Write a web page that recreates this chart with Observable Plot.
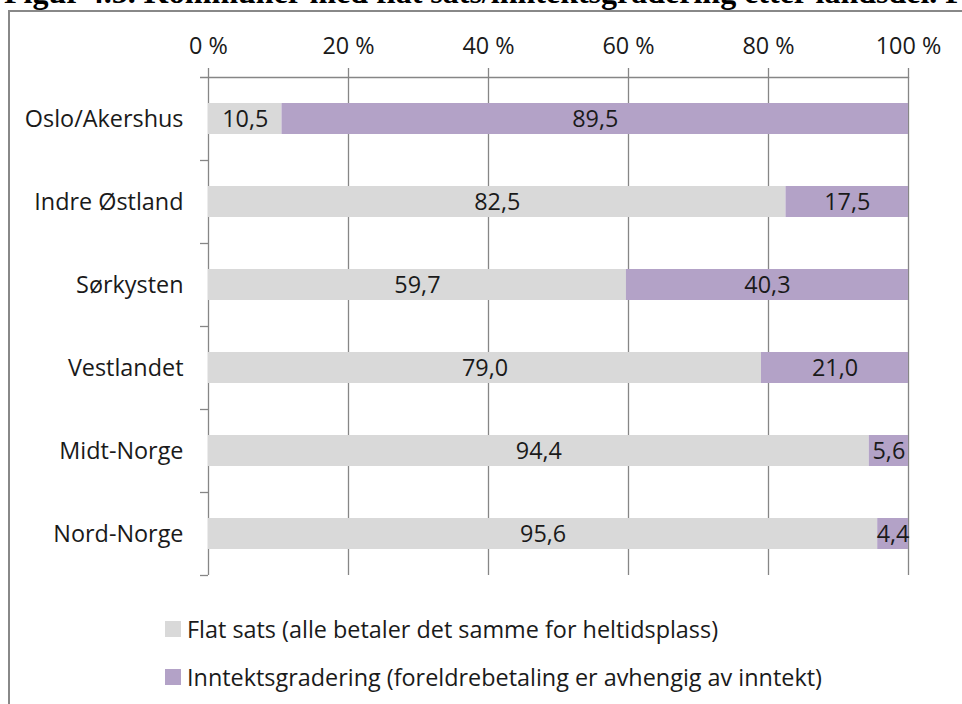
<!DOCTYPE html>
<html><head><meta charset="utf-8">
<script src="https://cdn.jsdelivr.net/npm/d3@7"></script>
<script src="https://cdn.jsdelivr.net/npm/@observablehq/plot@0.6"></script>
<style>
body{margin:0;background:#fff;}
#wrap{position:relative;width:962px;height:704px;overflow:hidden;font-family:"Open Sans",sans-serif;background:#fff;}
#title{position:absolute;left:4px;top:-24px;line-height:1;white-space:nowrap;font-weight:bold;font-size:32px;font-family:"Liberation Serif",serif;color:#000;}
#frame{position:absolute;left:8px;top:10px;width:1000px;height:800px;border-left:2px solid #888;border-top:2px solid #888;z-index:2;pointer-events:none;}
#chart{position:absolute;left:0;top:0;}
.leg{position:absolute;left:165px;height:18px;display:flex;align-items:center;font-size:23.4px;color:#1a1a1a;white-space:nowrap;}
.sw{width:16px;height:16px;margin-right:6px;flex:none;}
</style></head>
<body>
<div id="wrap">
  <div id="title"></div>
  <div id="frame"></div>
  <div id="chart"></div>
  <div id="legend"></div>
</div>
<script>
const titleText = "Figur 4.5. Kommuner med flat sats/inntektsgradering etter landsdel. Prosent";
const regions = ["Oslo/Akershus","Indre Østland","Sørkysten","Vestlandet","Midt-Norge","Nord-Norge"];
const flatValues = [10.5, 82.5, 59.7, 79.0, 94.4, 95.6];
const incomeValues = [89.5, 17.5, 40.3, 21.0, 5.6, 4.4];
const seriesNames = ["Flat sats (alle betaler det samme for heltidsplass)", "Inntektsgradering (foreldrebetaling er avhengig av inntekt)"];
const seriesColors = ["#d9d9d9", "#b3a2c7"];
const xTicks = [0, 20, 40, 60, 80, 100];

const rows = [];
regions.forEach((r, i) => {
  rows.push({region: r, series: seriesNames[0], value: flatValues[i]});
  rows.push({region: r, series: seriesNames[1], value: incomeValues[i]});
});

document.getElementById("title").textContent = titleText;

const H = 590, MT = 77, MB = 15;
const step = (H - MT - MB) / regions.length;
const barH = 31;
const inset = (step - barH) / 2;
const grid = "#868686";
const fs = 23.4;
const fmt = v => v.toFixed(1).replace(".", ",");

const chart = Plot.plot({
  width: 962, height: H,
  marginTop: MT, marginBottom: MB, marginLeft: 208, marginRight: 54,
  style: {background: "transparent", fontFamily: "Open Sans", fontSize: fs + "px", color: "#1a1a1a", overflow: "visible"},
  x: {domain: [0, 100]},
  y: {domain: regions, padding: 0},
  color: {domain: seriesNames, range: seriesColors},
  marks: [
    Plot.ruleX(xTicks, {stroke: grid, strokeWidth: 1.3}),
    Plot.barX(rows, Plot.stackX({x: "value", y: "region", fill: "series", insetTop: inset, insetBottom: inset})),
    Plot.text(rows, Plot.stackX({x: "value", y: "region", text: d => fmt(d.value), fill: "#1a1a1a", fontSize: fs})),
    Plot.ruleY(regions, {y: d => d, x1: -8/7, x2: 0, dy: step / 2, stroke: grid, strokeWidth: 1.3}),
    Plot.ruleY([regions[0]], {y: d => d, x1: -8/7, x2: 100, dy: -step / 2, stroke: grid, strokeWidth: 1.3}),
    Plot.axisX({anchor: "top", ticks: xTicks, tickFormat: d => d + " %", tickSize: 10, tickPadding: 14, stroke: grid, strokeWidth: 1.3, fontSize: fs, label: null}),
    Plot.axisY({tickSize: 0, tickPadding: 25, fontSize: fs, label: null})
  ]
});
document.getElementById("chart").appendChild(chart);

const legend = document.getElementById("legend");
const legTops = [620, 668];
seriesNames.forEach((s, i) => {
  const d = document.createElement("div");
  d.className = "leg";
  d.style.top = legTops[i] + "px";
  const sw = document.createElement("span");
  sw.className = "sw";
  sw.style.background = seriesColors[i];
  const t = document.createElement("span");
  t.textContent = s;
  d.appendChild(sw); d.appendChild(t);
  legend.appendChild(d);
});
</script>
</body></html>
